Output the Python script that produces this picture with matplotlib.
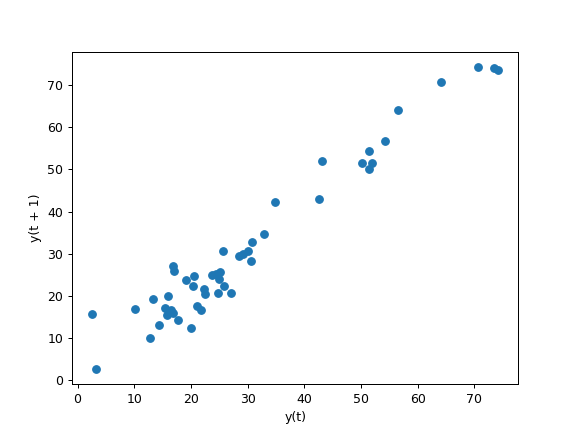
import matplotlib
matplotlib.use("Agg")
import matplotlib.pyplot as plt

# lag pairs: y(t) and y(t + 1)
y_t = [2.6, 3.3, 10.2, 12.7, 13.3, 14.4, 15.4, 15.8, 16.4, 16.8,
       16.0, 16.9, 17.1, 17.8, 19.1, 20.1, 20.4, 20.6, 21.0, 21.8,
       22.3, 22.4, 23.8, 24.5, 24.8, 25.0, 25.2, 25.9, 25.7, 27.1,
       28.5, 29.2, 30.0, 30.6, 30.7, 32.9, 34.9, 42.6, 43.2, 50.1,
       51.5, 52.0, 51.5, 54.2, 56.6, 64.1, 70.6, 73.5, 74.2]
y_t1 = [15.7, 2.6, 16.9, 10.0, 19.2, 13.0, 17.2, 15.4, 16.6, 16.0,
        20.0, 27.1, 25.9, 14.2, 23.7, 12.5, 22.3, 24.7, 17.6, 16.6,
        21.6, 20.4, 24.9, 25.1, 20.8, 24.1, 25.7, 22.3, 30.6, 20.6,
        29.4, 29.9, 30.6, 28.3, 32.8, 34.8, 42.4, 43.1, 51.9, 51.5,
        54.3, 51.5, 50.0, 56.7, 64.0, 70.7, 74.3, 74.0, 73.5]

fig, ax = plt.subplots(figsize=(6.4, 4.8), dpi=90)
ax.scatter(y_t, y_t1)
ax.set_xlabel("y(t)")
ax.set_ylabel("y(t + 1)")

fig.savefig("out.png")
